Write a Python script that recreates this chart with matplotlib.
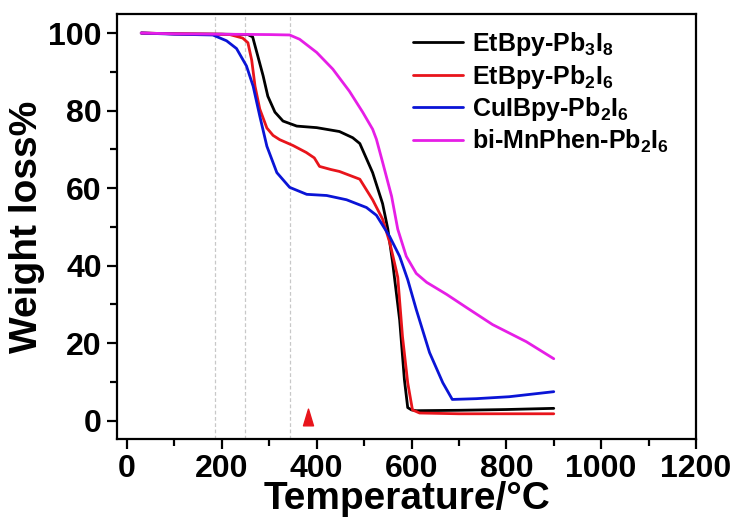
import matplotlib.pyplot as plt
from matplotlib.ticker import MultipleLocator
from matplotlib.path import Path

plt.rcParams['font.family'] = ['Liberation Sans', 'DejaVu Sans']
plt.rcParams['font.weight'] = 'bold'
plt.rcParams['mathtext.fontset'] = 'custom'
plt.rcParams['mathtext.rm'] = 'Liberation Sans:bold'
plt.rcParams['mathtext.bf'] = 'Liberation Sans:bold'

# --- TGA curves (temperature in C, remaining weight in %) ---
black_x = [30, 100, 200, 255, 265, 276, 287, 297, 312, 329, 358, 400, 448, 476, 491,
           518, 539, 550, 560, 566, 575, 585, 592, 600, 610, 700, 800, 900]
black_y = [100, 99.8, 99.7, 99.6, 99, 94, 89, 83.7, 79.6, 77.3, 76, 75.6, 74.6, 73, 71.5,
           64, 56, 49.5, 41, 35, 26, 10.6, 3.4, 2.8, 2.6, 2.7, 2.9, 3.2]

red_x = [30, 100, 200, 217, 244, 255, 263, 270, 280, 295, 308, 322, 350, 378, 395, 406,
         430, 448, 491, 518, 539, 554, 564, 571, 581, 592, 602, 617, 700, 800, 900]
red_y = [100, 99.8, 99.7, 99.6, 98.7, 97.5, 93, 86.3, 80.4, 75.5, 73.6, 72.5, 71, 69.2, 67.8, 65.6,
         64.8, 64.3, 62.3, 57, 52, 46, 40.8, 37, 21.7, 9.8, 2.8, 2.0, 1.8, 1.8, 1.8]

blue_x = [30, 100, 181, 210, 231, 252, 266, 280, 295, 316, 343, 379, 421, 463, 505, 526,
          554, 575, 592, 610, 638, 666, 686, 737, 806, 900]
blue_y = [100, 99.7, 99.5, 98, 96, 91.5, 86.3, 78.6, 70.8, 64, 60.2, 58.4, 58.1, 57, 55, 53,
          47.5, 42.4, 36.4, 28.7, 17.6, 9.8, 5.5, 5.7, 6.2, 7.5]

magenta_x = [30, 100, 200, 300, 343, 364, 400, 434, 469, 497, 518, 526, 539, 558, 571, 589,
             610, 632, 674, 716, 771, 842, 900]
magenta_y = [100, 99.8, 99.7, 99.6, 99.5, 98.4, 95, 90.7, 85, 79.6, 75.2, 72.6, 66.7, 57.9, 49.4, 42.4,
             38, 35.7, 32.6, 29.2, 24.8, 20.4, 16]

labels = [r'EtBpy-Pb$_{3}$I$_{8}$', r'EtBpy-Pb$_{2}$I$_{6}$',
          r'CuIBpy-Pb$_{2}$I$_{6}$', r'bi-MnPhen-Pb$_{2}$I$_{6}$']
colors = ['#000000', '#e8141b', '#0a14d6', '#e61ee6']

guide_x = [185, 248, 343]
marker_x, marker_y = 381, 1

fig = plt.figure(figsize=(7.37, 5.2), dpi=100)
ax = fig.add_axes([0.1588, 0.1558, 0.9444 - 0.1588, 0.973 - 0.1558])

# faint dashed guides at the decomposition onsets
for gx in guide_x:
    ax.axvline(gx, color='#c8c8c8', lw=0.9, ls=(0, (3, 2)), zorder=1)

series = [(black_x, black_y), (red_x, red_y), (blue_x, blue_y), (magenta_x, magenta_y)]
for (xs, ys), lab, col in zip(series, labels, colors):
    ax.plot(xs, ys, color=col, lw=2.0, label=lab, zorder=3,
            solid_joinstyle='round', solid_capstyle='round')

# narrow upright triangle
tri = Path([(-0.3, -0.5), (0.3, -0.5), (0.0, 0.5), (-0.3, -0.5)],
           [Path.MOVETO, Path.LINETO, Path.LINETO, Path.CLOSEPOLY])
ax.plot([marker_x], [marker_y], marker=tri, ms=12, color='#e8141b', ls='none', zorder=3)

ax.set_xlim(-21, 1200)
ax.set_ylim(-4.7, 104.9)
ax.xaxis.set_major_locator(MultipleLocator(200))
ax.xaxis.set_minor_locator(MultipleLocator(100))
ax.yaxis.set_major_locator(MultipleLocator(20))
ax.yaxis.set_minor_locator(MultipleLocator(10))

for sp in ax.spines.values():
    sp.set_linewidth(1.6)
ax.tick_params(which='major', direction='out', length=7, width=1.6, labelsize=23, pad=4)
ax.tick_params(which='minor', direction='out', length=5, width=1.6)
ax.tick_params(top=False, right=False, which='both')

ax.set_xlabel('Temperature/°C', fontsize=28, fontweight='bold', labelpad=-2)
ax.set_ylabel('Weight loss%', fontsize=28, fontweight='bold', labelpad=2)

leg = ax.legend(loc='upper left', bbox_to_anchor=(0.511, 0.962), frameon=False,
                fontsize=18, handlelength=2.0, handletextpad=0.36,
                labelspacing=0.18, borderpad=0, borderaxespad=0)
for line in leg.get_lines():
    line.set_linewidth(2.0)

fig.savefig('out.png', dpi=100)
